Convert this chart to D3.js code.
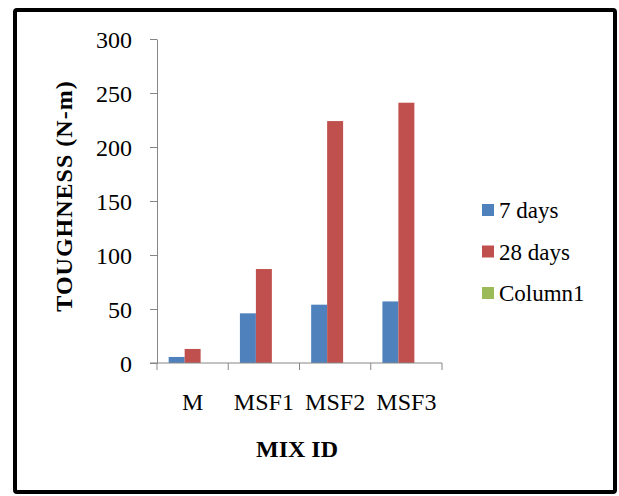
<!DOCTYPE html>
<html>
<head>
<meta charset="utf-8">
<script src="https://cdn.jsdelivr.net/npm/d3@7"></script>
<style>
  html, body { margin: 0; padding: 0; background: #fff; }
  svg { display: block; }
  text { font-family: "Liberation Serif", "Times New Roman", serif; fill: #000; }
</style>
</head>
<body>
<svg id="chart" width="619" height="496"></svg>
<script>
// Toughness by mix, at 7 and 28 days of curing
const categories = ["M", "MSF1", "MSF2", "MSF3"];
const seriesNames = ["7 days", "28 days", "Column1"];
const days7 = [5.6, 46, 54, 57];
const days28 = [13, 87, 224, 241];
const column1 = [null, null, null, null];
const yTicks = [0, 50, 100, 150, 200, 250, 300];
const seriesColors = ["#4F81BD", "#C0504D", "#9BBB59"];

const seriesValues = [days7, days28, column1];

const svg = d3.select("#chart");

// outer frame
svg.append("rect")
  .attr("x", 15).attr("y", 10)
  .attr("width", 600).attr("height", 482)
  .attr("rx", 2)
  .attr("fill", "none")
  .attr("stroke", "#000")
  .attr("stroke-width", 4);

const plot = { left: 157, right: 442, top: 39, bottom: 363 };

const x0 = d3.scaleBand().domain(categories).range([plot.left, plot.right]).paddingInner(0).paddingOuter(0);
const x1 = d3.scaleBand().domain(seriesNames).range([0, x0.bandwidth()]).paddingInner(0).paddingOuter(0.73);
const y = d3.scaleLinear().domain([0, 300]).range([plot.bottom, plot.top]);

const axisColor = "#868686";

// bars
const rows = [];
categories.forEach((c, i) => {
  seriesNames.forEach((s, j) => {
    const v = seriesValues[j][i];
    if (v != null) rows.push({ c, s, v, color: seriesColors[j] });
  });
});

svg.append("g").selectAll("rect")
  .data(rows)
  .join("rect")
  .attr("x", d => x0(d.c) + x1(d.s))
  .attr("y", d => y(d.v))
  .attr("width", x1.bandwidth())
  .attr("height", d => y(0) - y(d.v))
  .attr("fill", d => d.color);

// y axis
const yAxis = svg.append("g")
  .attr("transform", `translate(${plot.left},0)`)
  .call(d3.axisLeft(y).tickValues(yTicks).tickSize(7).tickSizeOuter(0).tickPadding(18));
yAxis.select(".domain").attr("stroke", axisColor);
yAxis.selectAll(".tick line").attr("stroke", axisColor);
yAxis.selectAll(".tick text")
  .attr("font-family", "Liberation Serif")
  .attr("font-size", 24)
  .attr("fill", "#000")
  .attr("dy", "0.34em");

// x axis line with ticks between categories
const xAxis = svg.append("g");
xAxis.append("line")
  .attr("x1", plot.left - 7).attr("x2", plot.right)
  .attr("y1", plot.bottom).attr("y2", plot.bottom)
  .attr("stroke", axisColor);
const bounds = categories.map(c => x0(c)).concat([plot.right]);
xAxis.selectAll("line.tk")
  .data(bounds)
  .join("line")
  .attr("class", "tk")
  .attr("x1", d => d).attr("x2", d => d)
  .attr("y1", plot.bottom).attr("y2", plot.bottom + 7)
  .attr("stroke", axisColor);
xAxis.selectAll("text")
  .data(categories)
  .join("text")
  .attr("x", d => x0(d) + x0.bandwidth() / 2)
  .attr("y", 410)
  .attr("text-anchor", "middle")
  .attr("font-size", 24)
  .text(d => d);

// axis titles
svg.append("text")
  .attr("transform", "translate(72,196) rotate(-90)")
  .attr("text-anchor", "middle")
  .attr("font-size", 24)
  .attr("font-weight", "bold")
  .attr("letter-spacing", 1)
  .text("TOUGHNESS (N-m)");

svg.append("text")
  .attr("x", 297)
  .attr("y", 457)
  .attr("text-anchor", "middle")
  .attr("font-size", 24)
  .attr("font-weight", "bold")
  .text("MIX ID");

// legend
const legend = svg.append("g").selectAll("g")
  .data(seriesNames)
  .join("g")
  .attr("transform", (d, i) => `translate(482, ${210 + i * 41.5})`);
legend.append("rect")
  .attr("x", 0).attr("y", -6)
  .attr("width", 12).attr("height", 12)
  .attr("fill", (d, i) => seriesColors[i]);
legend.append("text")
  .attr("x", 17)
  .attr("y", 0)
  .attr("dy", "0.35em")
  .attr("font-size", 23)
  .text(d => d);
</script>
</body>
</html>
